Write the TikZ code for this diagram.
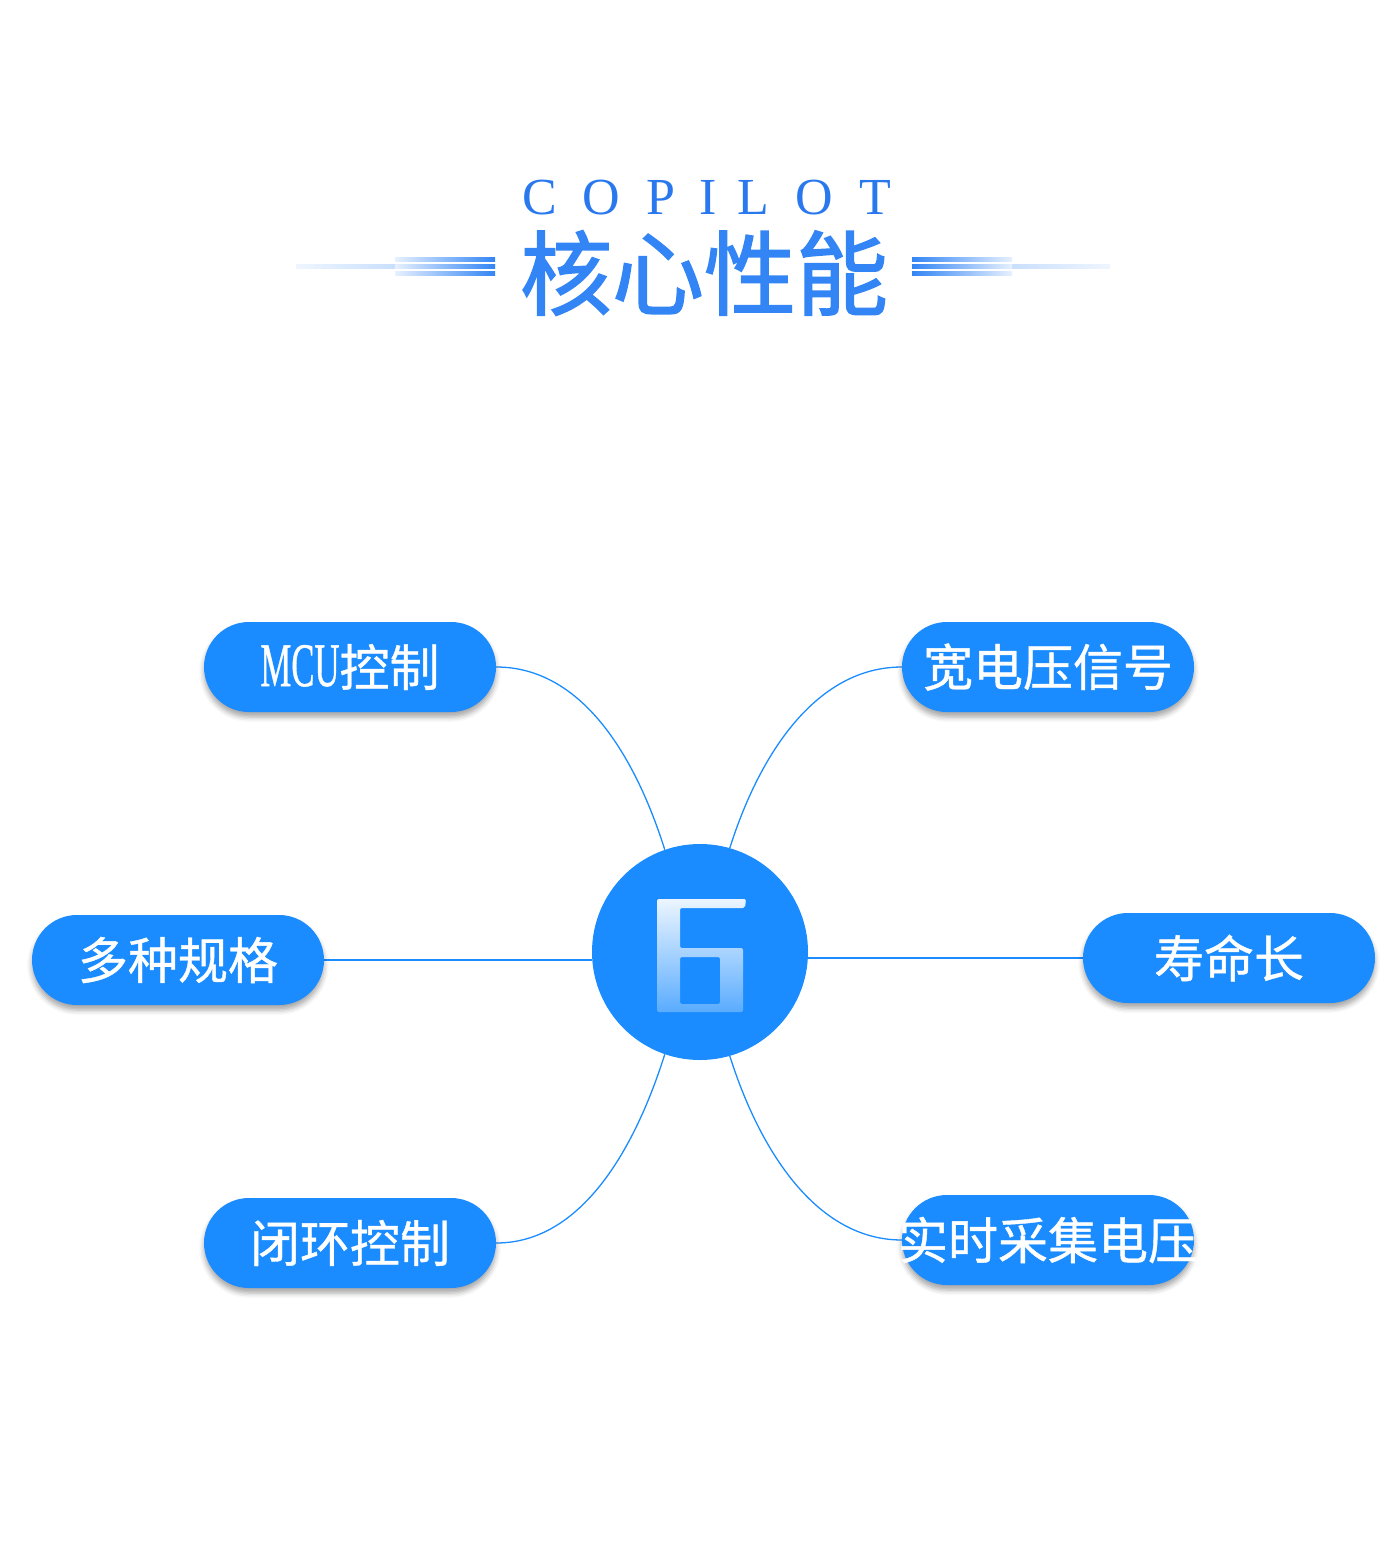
\documentclass[tikz,border=0pt]{standalone}
\usepackage{fontspec}
\usepackage{graphicx}
\setmainfont{Liberation Serif}
\newfontfamily\cjk[FakeBold=0.8]{Noto Sans CJK SC}
\newfontfamily\cjktitle[FakeBold=1.6]{Noto Sans CJK SC}
\newfontfamily\mcufont[FakeBold=0.8]{Liberation Serif}
\usetikzlibrary{shadows.blur,fadings}
\definecolor{mainblue}{HTML}{1A8CFF}
\definecolor{titleblue}{HTML}{3385F5}
\definecolor{copblue}{HTML}{2A78EE}
\tikzfading[name=sixfade, top color=transparent!8, bottom color=transparent!72]
\pgfdeclarelayer{back}
\pgfsetlayers{back,main}
\begin{document}
\begin{tikzpicture}[x=1pt,y=-1pt,
  pill/.style={rectangle, rounded corners=45pt, minimum width=292pt, minimum height=90pt,
    fill=mainblue, inner sep=0pt, text=white, font=\cjk\fontsize{50}{50}\selectfont,
    blur shadow={shadow xshift=0pt, shadow yshift=-5pt, shadow blur radius=5pt, shadow opacity=35}},
  pilltext/.style={inner sep=0pt, text=white, font=\cjk\fontsize{50}{50}\selectfont},
  conn/.style={draw=mainblue, line width=1.3pt},
  cop/.style={font=\fontsize{52}{52}\selectfont, text=copblue, inner sep=0pt, anchor=base},
  titletext/.style={font=\cjktitle\fontsize{92}{92}\selectfont, inner sep=0pt}
]
\useasboundingbox (0,0) rectangle (1400,1567);
\begin{pgfonlayer}{back}
\fill[white] (0,0) rectangle (1400,1567);
\end{pgfonlayer}
% off-page warm-up of the blur shadow (outside the bounding box)
\node[pill] (warmup) at (-600,-600) {};

% title
\foreach \l/\x [count=\i] in {C/540,O/601,P/661,I/708,L/753,O/814,T/875}
  \node[cop] (cop\i) at (\x,214) {\l};
\node[titletext, text=titleblue] (title) at (704,273) {核心性能};

% decorative bars
\shade[left color=titleblue!8, right color=titleblue!45] (296,264) rectangle (495,268);
\foreach \yy in {257,264,271}
  \shade[left color=titleblue!12, right color=titleblue] (395,\yy) rectangle (495,\yy+4);
\shade[left color=titleblue!45, right color=titleblue!8] (912,264) rectangle (1110,268);
\foreach \yy in {257,264,271}
  \shade[left color=titleblue, right color=titleblue!12] (912,\yy) rectangle (1012,\yy+4);

% centre
\node[circle, fill=mainblue, minimum size=216pt, inner sep=0pt] (c) at (700,952) {};
\fill[white, path fading=sixfade, even odd rule, rounded corners=2pt]
  (657,899) -- (746,899) -- (745,908) -- (680,908) -- (680,948) -- (743,948)
  -- (743,1012) -- (657,1012) -- cycle
  (680,957) -- (720,957) -- (720,1004) -- (680,1004) -- cycle;

% pills
\node[pill] (mcu) at (350,667) {};
\node[pilltext] (mcutext) at (mcu.center) {\scalebox{0.56}[1]{\mcufont\fontsize{62}{62}\selectfont MCU}控制};
\node[pill] (kuan) at (1048,667) {宽电压信号};
\node[pill] (duo) at (178,960) {多种规格};
\node[pill] (shou) at (1229,958) {寿命长};
\node[pill] (bi) at (350,1243) {闭环控制};
\node[pill] (shi) at (1048,1240) {\makebox[0pt]{实时采集电压}};

% connectors
\begin{pgfonlayer}{back}
\draw[conn] (mcu.east) .. controls +(85,0) and +(-30,-95) .. (c.109);
\draw[conn] (kuan.west) .. controls +(-85,0) and +(30,-95) .. (c.74);
\draw[conn] (bi.east) .. controls +(85,0) and +(-30,95) .. (c.251);
\draw[conn] (shi.west) .. controls +(-85,0) and +(30,95) .. (c.286);
\draw[conn] (duo.east) -- (duo.east -| c.west);
\draw[conn] (shou.west) -- (shou.west -| c.east);
\end{pgfonlayer}
\end{tikzpicture}
\end{document}
